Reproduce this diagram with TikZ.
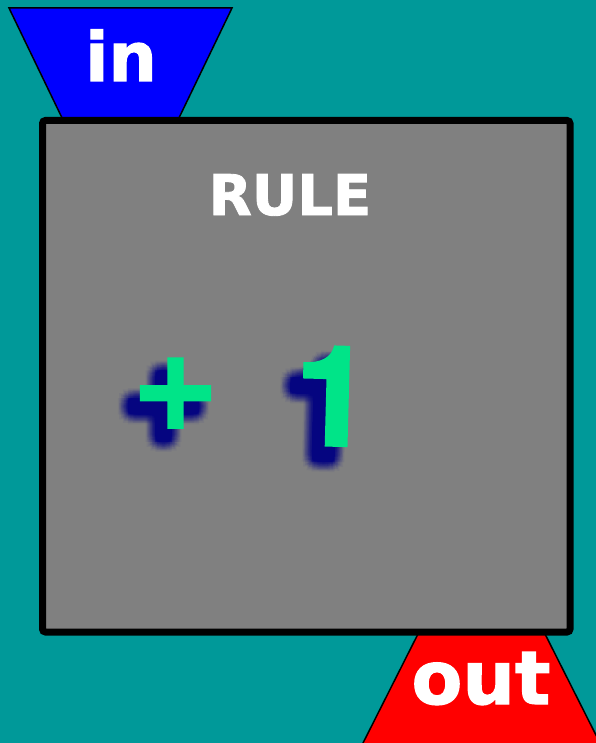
\documentclass[tikz,border=0pt]{standalone}
\usepackage{fontspec}
\setmainfont{DejaVu Sans}
\newfontfamily\heavy[FakeBold=1.6]{DejaVu Sans Bold}
\newfontfamily\heavyplus[FakeBold=3.5]{DejaVu Sans Bold}
\newfontfamily\heavyone[FakeBold=2.5]{TeX Gyre Heros}
\usetikzlibrary{calc}
\definecolor{bgteal}{RGB}{0,153,153}
\definecolor{boxgray}{RGB}{128,128,128}
\definecolor{pgreen}{RGB}{0,228,136}
\definecolor{shadowc}{RGB}{5,5,130}
\tikzset{
  funnel/.style={draw=black, line width=1.5pt, line join=miter},
  lbl/.style={text=white, inner sep=0pt, anchor=base},
  glyph/.style={text=pgreen, inner sep=0pt, anchor=base},
  shad/.style={text=shadowc, inner sep=0pt, anchor=base, opacity=0.05},
  plusfont/.style={font=\heavyplus\fontsize{108}{110}\selectfont},
  onefont/.style={font=\heavyone\bfseries\fontsize{138}{140}\selectfont},
}
\begin{document}
\begin{tikzpicture}[x=1pt,y=-1pt]
  \useasboundingbox (0,0) rectangle (596,743);
  \fill[bgteal] (0,0) rectangle (596,743);
  % funnels
  \draw[funnel, fill=blue] (9,8) -- (232,8) -- (177,122) -- (64,122) -- cycle;
  \draw[funnel, fill=red] (420,630) -- (543,630) -- (601,745) -- (362,745) -- cycle;
  % rule box
  \draw[line width=7pt, fill=boxgray, rounded corners=3pt] (42.5,120.5) rectangle (570,632);
  % labels
  \node[lbl, font=\heavy\fontsize{68}{70}\selectfont] (in) at (121,81) {in};
  \node[lbl, font=\heavy\fontsize{74}{76}\selectfont] (out) at (481,704) {out};
  \node[lbl, font=\heavy\fontsize{56}{58}\selectfont] (rule) at (290,215) {RULE};
  % shadows
  \coordinate (pluspos) at (175.5,427);
  \coordinate (onepos) at (332,445);
  \foreach \r in {0,2,4,6,8,10} {
    \foreach \a in {0,30,...,330} {
      \node[shad, plusfont] (sp-\r-\a) at ($(pluspos)+(-12,13)+(\a:\r)$) {+};
      \node[shad, onefont, rotate=-1.5] (so-\r-\a) at ($(onepos)+(-13,15)+(\a:\r)$) {1};
    }
  }
  % glyphs
  \node[glyph, plusfont] (plus) at (pluspos) {+};
  \node[glyph, onefont, rotate=-1.5] (one) at (onepos) {1};
\end{tikzpicture}
\end{document}
